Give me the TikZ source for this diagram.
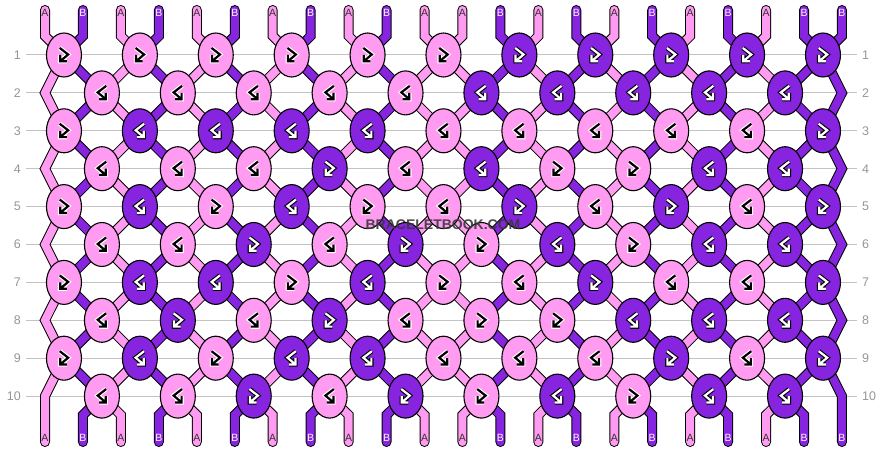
\documentclass[tikz,border=0pt]{standalone}
\usepackage{fontspec}
\setmainfont{Liberation Sans}
\usetikzlibrary{shapes.geometric,positioning}

\definecolor{threadp}{RGB}{255,155,240}
\definecolor{threadv}{RGB}{134,36,224}
\definecolor{rulegray}{RGB}{195,195,195}
\definecolor{numgray}{RGB}{150,150,150}

\pgfdeclarelayer{grid}
\pgfdeclarelayer{threads}
\pgfsetlayers{grid,threads,main}

% one row of knots: #1 row, #2 offset (0.5 odd rows, 1.5 even rows), #3 colour/glyph list
\newcommand\knotrow[3]{%
  \foreach \kc/\kg [count=\kn from 0] in {#3} {
    \node[knot, fill=thread\kc] (k-#1-\kn) at ({45+37.95*(2*\kn+#2)}, {55+37.9*(#1-1)}) {};
    \begin{scope}[shift={(k-#1-\kn.center)}, mirror \kg]
      \draw[glyph, line width=4.4pt, ink under \kc] (-4.2,-7) -- (4.2,-0.5) -- (-3.8,6.3) (-3.8,0) -- (-3.8,6.3) -- (2.8,6.3);
      \draw[glyph, line width=2.2pt, ink top \kc] (-4.2,-7) -- (4.2,-0.5) -- (-3.8,6.3) (-3.8,0) -- (-3.8,6.3) -- (2.8,6.3);
    \end{scope}
  }%
}

\begin{document}
\begin{tikzpicture}[
    x=1pt, y=-1pt,
    knot/.style={ellipse, draw=black, line width=1.1pt, minimum width=35pt, minimum height=44pt, inner sep=0pt},
    glyph/.style={line cap=butt, line join=miter},
    ink under p/.style={draw=white}, ink top p/.style={draw=black},
    ink under v/.style={draw=black}, ink top v/.style={draw=white},
    mirror f/.style={}, mirror b/.style={xscale=-1},
    thread/.style={line width=8pt, line cap=round, line join=miter,
      preaction={draw=black, line width=10pt, line cap=round, line join=miter}},
    tag/.style={font=\fontsize{10.5}{12}\selectfont, inner sep=0pt},
    tag p/.style={tag, text=black!80},
    tag v/.style={tag, text=white!92!threadp},
    rownum/.style={font=\fontsize{12.5}{14}\selectfont, text=numgray, inner sep=5pt},
    rowline/.style={draw=rulegray, line width=1pt},
    watermark/.style={font=\bfseries\fontsize{14}{16}\selectfont, text=black!78, opacity=0.9}
]
    \useasboundingbox (0,0) rectangle (886,452);
    \begin{pgfonlayer}{grid}
        \fill[white] (0,0) rectangle (886,452);
    \end{pgfonlayer}

    % knots, row by row
    \knotrow{1}{0.5}{p/f,p/f,p/f,p/f,p/f,p/f,v/f,v/f,v/f,v/f,v/f}
    \knotrow{2}{1.5}{p/b,p/b,p/b,p/b,p/b,v/b,v/b,v/b,v/b,v/b}
    \knotrow{3}{0.5}{p/f,v/b,v/b,v/b,v/b,p/b,p/b,p/b,p/b,p/b,v/f}
    \knotrow{4}{1.5}{p/b,p/b,p/b,v/f,p/b,v/b,p/f,p/f,v/b,v/b}
    \knotrow{5}{0.5}{p/f,v/b,p/f,v/b,p/f,p/b,v/f,p/b,v/f,p/b,v/f}
    \knotrow{6}{1.5}{p/b,p/b,v/f,p/b,v/f,p/f,v/b,p/f,v/b,v/b}
    \knotrow{7}{0.5}{p/f,v/b,v/b,p/f,v/b,p/f,p/b,v/f,p/b,p/b,v/f}
    \knotrow{8}{1.5}{p/b,v/f,p/b,v/f,p/b,p/f,p/f,v/b,v/b,v/b}
    \knotrow{9}{0.5}{p/f,v/b,p/f,v/b,v/b,p/b,p/b,p/b,v/f,p/b,v/f}
    \knotrow{10}{1.5}{p/b,p/b,v/f,p/b,v/f,p/f,v/b,p/f,v/b,v/b}

    % row numbers and rules
    \foreach \rw in {1,...,10} {
        \node[rownum, anchor=east] (rl-\rw) at (26, {55+37.9*(\rw-1)}) {\rw};
        \node[rownum, anchor=west] (rr-\rw) at (857, {55+37.9*(\rw-1)}) {\rw};
        \begin{pgfonlayer}{grid}
            \draw[rowline] (rl-\rw.east) -- (rr-\rw.west);
        \end{pgfonlayer}
    }

    % where each string passes in each row
    \foreach \sn in {0,...,21} {
        \coordinate (te-\sn) at ({45+37.95*\sn}, 10);
        \coordinate (tb-\sn) at ({45+37.95*\sn}, 36);
        \coordinate (bb-\sn) at ({45+37.95*\sn}, 415);
        \coordinate (be-\sn) at ({45+37.95*\sn}, 442);
        \foreach \rw in {1,...,10} {
            \ifodd\rw
                \pgfmathtruncatemacro\kn{floor(\sn/2)}
                \coordinate (s-\sn-\rw) at (k-\rw-\kn.center);
            \else
                \ifnum\sn=0
                    \coordinate (s-\sn-\rw) at (45, {55+37.9*(\rw-1)});
                \else\ifnum\sn=21
                    \coordinate (s-\sn-\rw) at ({45+37.95*21}, {55+37.9*(\rw-1)});
                \else
                    \pgfmathtruncatemacro\kn{floor((\sn-1)/2)}
                    \coordinate (s-\sn-\rw) at (k-\rw-\kn.center);
                \fi\fi
            \fi
        }
    }

    % strings with their end letters
    \foreach \sn/\sc/\sl in {0/p/A,1/v/B,2/p/A,3/v/B,4/p/A,5/v/B,6/p/A,7/v/B,8/p/A,9/v/B,10/p/A,
                             11/p/A,12/v/B,13/p/A,14/v/B,15/p/A,16/v/B,17/p/A,18/v/B,19/p/A,20/v/B,21/v/B} {
        \begin{pgfonlayer}{threads}
            \draw[thread, draw=thread\sc] (te-\sn) -- (tb-\sn)
                \foreach \rw in {1,...,10} { -- (s-\sn-\rw) } -- (bb-\sn) -- (be-\sn);
        \end{pgfonlayer}
        \node[tag \sc] (lt-\sn) at ({45+37.95*\sn}, 13) {\sl};
        \node[tag \sc] (lb-\sn) at ({45+37.95*\sn}, 438) {\sl};
    }

    \node[watermark] (wm) at (443, 225) {BRACELETBOOK.COM};
\end{tikzpicture}
\end{document}
